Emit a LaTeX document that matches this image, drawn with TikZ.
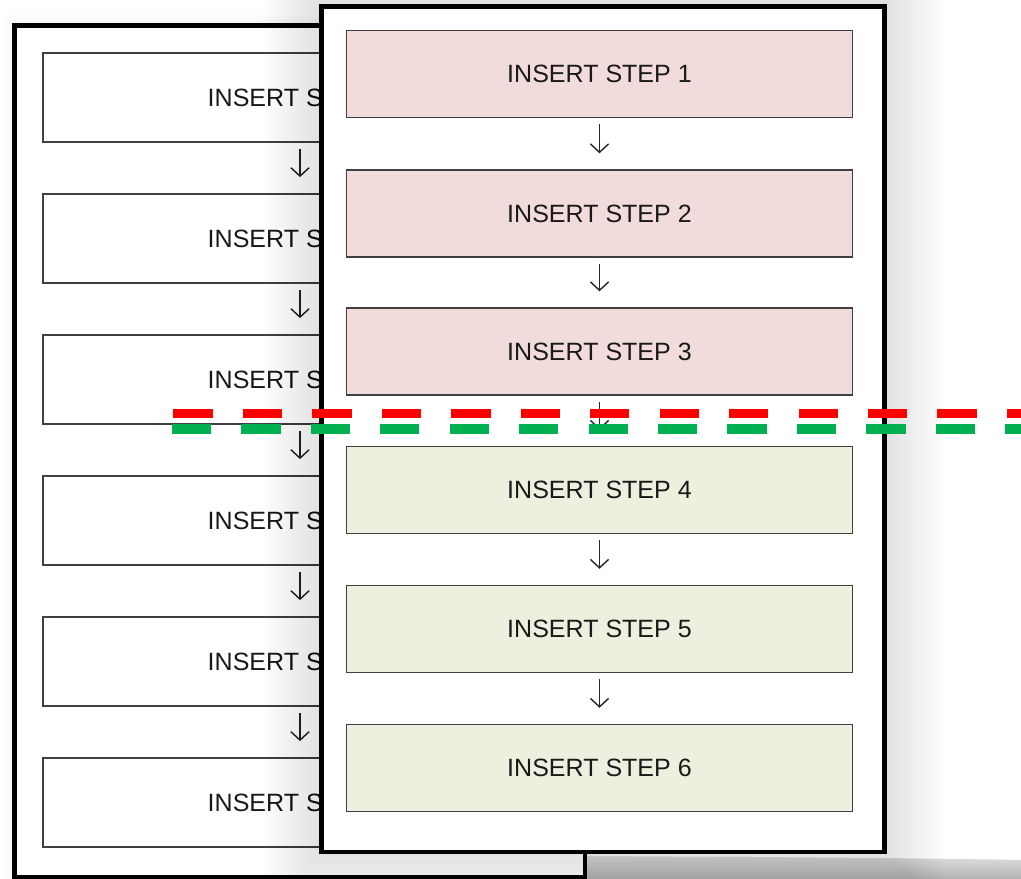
\documentclass[tikz,border=0pt]{standalone}
\usepackage{fontspec}
\setmainfont{Liberation Sans}
\usetikzlibrary{arrows.meta}
\definecolor{stepred}{HTML}{F2DCDB}
\definecolor{stepgreen}{HTML}{EBF1DE}
\definecolor{cutred}{HTML}{FF0000}
\definecolor{cutgreen}{HTML}{00B050}
\definecolor{boxline}{HTML}{404040}
\begin{document}
\begin{tikzpicture}[x=0.025cm,y=-0.025cm,
  panel/.style={draw=black,line width=3.5pt,fill=white},
  glow/.style={fill=black,fill opacity=#1,draw=none},
  stepbox/.style={draw=boxline,line width=0.9pt,inner sep=0pt,
    font=\fontsize{17.8}{20}\selectfont,text=black!90},
  backstep/.style={stepbox,fill=white,minimum width=12.85cm,minimum height=2.23cm},
  redstep/.style={stepbox,fill=stepred,minimum width=12.63cm,minimum height=2.17cm},
  greenstep/.style={stepbox,fill=stepgreen,minimum width=12.63cm,minimum height=2.17cm},
  flow/.style={-{Straight Barb[length=6pt,width=13pt]},draw=black!85,line width=1pt,
    shorten <=4.5pt,shorten >=11.5pt},
  cut/.style={line width=6.6pt,dash pattern=on 28pt off 21.4pt}]
\useasboundingbox (0,0) rectangle (1021,879);
\fill[white] (0,0) rectangle (1021,879);

% back sheet
\foreach \d in {3,6,9,12}
  \fill[glow=0.008] (14.5-\d,25.5-\d) rectangle (585+\d,877+\d);
\draw[panel] (14.5,25.5) rectangle (585,877);
\node[backstep] (b1) at (300,97.5) {INSERT STEP 1};
\node[backstep] (b2) at (300,238.5) {INSERT STEP 2};
\node[backstep] (b3) at (300,379.5) {INSERT STEP 3};
\node[backstep] (b4) at (300,520.5) {INSERT STEP 4};
\node[backstep] (b5) at (300,661.5) {INSERT STEP 5};
\node[backstep] (b6) at (300,802.5) {INSERT STEP 6};
\draw[flow] (b1) -- (b2);
\draw[flow] (b2) -- (b3);
\draw[flow] (b3) -- (b4);
\draw[flow] (b4) -- (b5);
\draw[flow] (b5) -- (b6);

% curl under the front sheet
\shade[top color=gray!25,middle color=gray!95,bottom color=gray!60]
  (587,856) .. controls (760,857) and (930,858) .. (1021,860) -- (1021,879) -- (587,879) -- cycle;

% front sheet
\foreach \d in {4,8,...,60}
  \fill[glow=0.008] (321.5-\d,6.5-\d) rectangle (884.5+\d,852+\d);
\draw[panel] (321.5,6.5) rectangle (884.5,852);
\node[redstep] (s1) at (599.5,74) {INSERT STEP 1};
\node[redstep] (s2) at (599.5,213.5) {INSERT STEP 2};
\node[redstep] (s3) at (599.5,351.5) {INSERT STEP 3};
\node[greenstep] (s4) at (599.5,490) {INSERT STEP 4};
\node[greenstep] (s5) at (599.5,629) {INSERT STEP 5};
\node[greenstep] (s6) at (599.5,768) {INSERT STEP 6};
\draw[flow] (s1) -- (s2);
\draw[flow] (s2) -- (s3);
\draw[flow] (s3) -- (s4);
\draw[flow] (s4) -- (s5);
\draw[flow] (s5) -- (s6);

% cut lines
\draw[cut,cutred] (173.3,413.8) -- (1021,413.8);
\draw[cut,cutgreen] (171.7,429) -- (1021,429);
\end{tikzpicture}
\end{document}
